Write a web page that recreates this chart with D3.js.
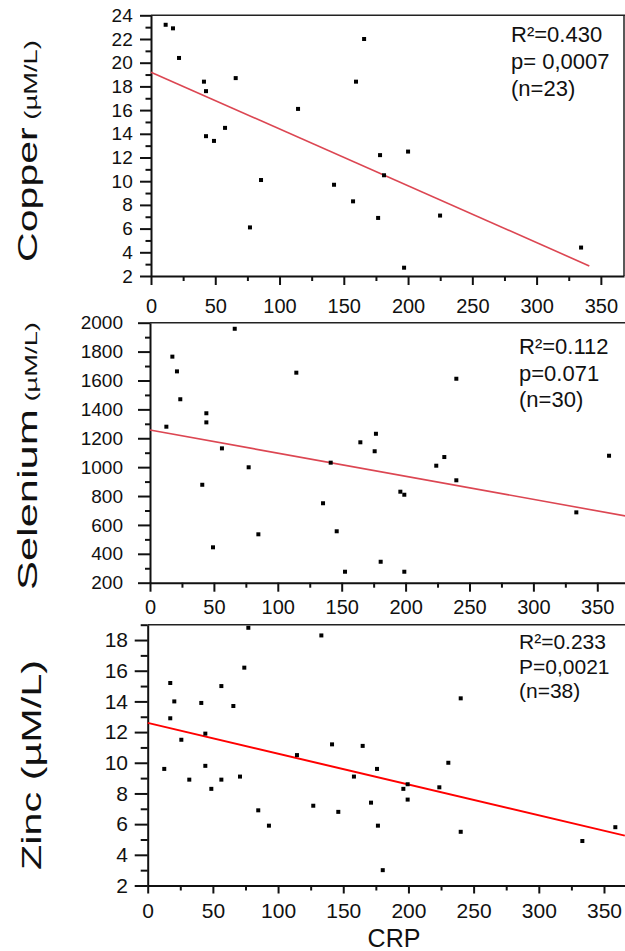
<!DOCTYPE html>
<html>
<head>
<meta charset="utf-8">
<script src="https://cdn.jsdelivr.net/npm/d3@7"></script>
<style>
  html, body { margin: 0; padding: 0; background: #fff; }
  svg { display: block; font-family: "Liberation Sans", Arial, sans-serif; }
</style>
</head>
<body>
<svg id="chart" width="625" height="951"></svg>
<script>
// CRP vs trace elements — three stacked scatter panels with fitted lines

// [CRP, value] pairs
const copperPoints = [
  [11.4, 23.2], [17.1, 22.9], [21.8, 20.4], [41.2, 18.4], [42.8, 17.6], [65.9, 18.7],
  [42.8, 13.8], [49.0, 13.4], [57.6, 14.5], [114.4, 16.1], [85.6, 10.1], [77.0, 6.1],
  [142.4, 9.7], [157.2, 8.3], [165.8, 22.0], [159.5, 18.4], [178.2, 12.2], [200.0, 12.5],
  [181.3, 10.5], [176.7, 6.9], [196.9, 2.7], [224.9, 7.1], [334.6, 4.4]
];
const seleniumPoints = [
  [12.8, 1280], [17.5, 1765], [21.1, 1663], [23.7, 1470], [66.3, 1958], [44.1, 1373],
  [44.1, 1310], [56.3, 1130], [77.2, 999], [40.9, 878], [49.3, 445], [84.8, 535],
  [114.5, 1654], [141.4, 1031], [135.4, 750], [146.1, 556], [152.6, 276], [164.6, 1172],
  [176.8, 1231], [175.8, 1110], [180.5, 345], [195.9, 830], [199.0, 809], [199.0, 276],
  [224.0, 1010], [230.3, 1070], [239.7, 909], [239.7, 1612], [333.6, 687], [359.2, 1079]
];
const zincPoints = [
  [12.7, 9.6], [17.3, 15.2], [17.3, 12.9], [20.4, 14.0], [25.8, 11.5], [31.9, 8.9],
  [41.1, 13.9], [44.2, 11.9], [44.2, 9.8], [48.8, 8.3], [56.5, 15.0], [56.5, 8.9],
  [65.7, 13.7], [70.8, 9.1], [74.1, 16.2], [77.2, 18.8], [84.8, 6.9], [93.0, 5.9],
  [114.5, 10.5], [127.0, 7.2], [133.2, 18.3], [141.4, 11.2], [146.2, 6.8], [158.2, 9.1],
  [164.9, 11.1], [171.3, 7.4], [175.9, 9.6], [176.6, 5.9], [180.3, 3.0], [196.1, 8.3],
  [199.4, 8.6], [199.4, 7.6], [223.7, 8.4], [230.6, 10.0], [240.1, 14.2], [240.1, 5.5],
  [333.4, 4.9], [358.7, 5.8]
];

// regression line end points [CRP, value]
const copperFit = [[0, 19.2], [341, 2.85]];
const seleniumFit = [[0, 1257], [372, 662]];
const zincFit = [[0, 12.6], [366, 5.25]];

const copperStats = ["R²=0.430", "p= 0,0007", "(n=23)"];
const seleniumStats = ["R²=0.112", "p=0.071", "(n=30)"];
const zincStats = ["R²=0.233", "P=0,0021", "(n=38)"];

const crpTicks = [0, 50, 100, 150, 200, 250, 300, 350];
const crpMinorTicks = [25, 75, 125, 175, 225, 275, 325];
const copperTicks = [2, 4, 6, 8, 10, 12, 14, 16, 18, 20, 22, 24];
const copperMinorTicks = [3, 5, 7, 9, 11, 13, 15, 17, 19, 21, 23];
const seleniumTicks = [200, 400, 600, 800, 1000, 1200, 1400, 1600, 1800, 2000];
const seleniumMinorTicks = [300, 500, 700, 900, 1100, 1300, 1500, 1700, 1900];
const zincTicks = [2, 4, 6, 8, 10, 12, 14, 16, 18];
const zincMinorTicks = [3, 5, 7, 9, 11, 13, 15, 17, 19];

const svg = d3.select("#chart");
const fmt = d3.format("d");

const panels = [
  {
    points: copperPoints, fit: copperFit, stats: copperStats,
    yMajor: copperTicks, yMinor: copperMinorTicks, yDomain: [2, 24], xMax: 368,
    left: 151, right: 624, top: 15.3, bottom: 276, rightBorder: true,
    yTick: 11, yMinorLen: 5.5, yPad: 7.3, yFont: 19,
    xTick: 9, xMinorLen: 5, xPad: 14, xFont: 20,
    fitColor: "#dc4652", fitWidth: 1.6,
    statX: 511, statY: 42, statGap: 27, statFont: 22,
    title: ["Copper", " (µM/L)"], titleSizes: [27, 18], titleX: 37, titleY: 151, titleLen: 222
  },
  {
    points: seleniumPoints, fit: seleniumFit, stats: seleniumStats,
    yMajor: seleniumTicks, yMinor: seleniumMinorTicks, yDomain: [200, 2000], xMax: 372,
    left: 150, right: 625.4, top: 322.7, bottom: 582.7, rightBorder: false,
    yTick: 12, yMinorLen: 5, yPad: 15, yFont: 19,
    xTick: 9, xMinorLen: 5, xPad: 8, xFont: 20,
    fitColor: "#dc4652", fitWidth: 1.6,
    statX: 519, statY: 354, statGap: 26.5, statFont: 22,
    title: ["Selenium", " (µM/L)"], titleSizes: [27, 17], titleX: 37, titleY: 456, titleLen: 268
  },
  {
    points: zincPoints, fit: zincFit, stats: zincStats,
    yMajor: zincTicks, yMinor: zincMinorTicks, yDomain: [2, 19], xMax: 366.5,
    left: 147.7, right: 625.5, top: 624.7, bottom: 885.5, rightBorder: false,
    yTick: 13, yMinorLen: 7, yPad: 6.7, yFont: 21,
    xTick: 8, xMinorLen: 5, xPad: 9.5, xFont: 21,
    fitColor: "#ff0000", fitWidth: 2,
    statX: 519, statY: 649, statGap: 24.5, statFont: 21,
    title: ["Zinc (µM/L)"], titleSizes: [27], titleX: 41, titleY: 765, titleLen: 210
  }
];

panels.forEach(drawPanel);

// shared x-axis title
svg.append("text")
  .attr("x", 394)
  .attr("y", 947)
  .attr("text-anchor", "middle")
  .attr("font-size", 25)
  .attr("fill", "#111")
  .text("CRP");

function styleAxis(sel, fontSize) {
  sel.attr("font-family", null).attr("font-size", fontSize);
  sel.selectAll("text").attr("fill", "#111");
  sel.selectAll(".tick line").attr("stroke-width", 2).attr("stroke", "#111");
  sel.select(".domain").attr("stroke-width", 2).attr("stroke", "#111");
}

function drawPanel(p) {
  const x = d3.scaleLinear().domain([0, p.xMax]).range([p.left, p.right]);
  const y = d3.scaleLinear().domain(p.yDomain).range([p.bottom, p.top]);
  const g = svg.append("g");

  // frame: top (and right when it fits)
  g.append("line")
    .attr("x1", p.left).attr("x2", p.right + 1)
    .attr("y1", p.top).attr("y2", p.top)
    .attr("stroke", "#222").attr("stroke-width", 1.5);
  if (p.rightBorder) {
    g.append("line")
      .attr("x1", p.right).attr("x2", p.right)
      .attr("y1", p.top).attr("y2", p.bottom)
      .attr("stroke", "#222").attr("stroke-width", 1.5);
  }

  // minor ticks
  g.append("g")
    .attr("transform", `translate(${p.left},0)`)
    .call(d3.axisLeft(y).tickValues(p.yMinor).tickSize(p.yMinorLen).tickFormat("").tickSizeOuter(0))
    .call((a) => { styleAxis(a, p.yFont); a.select(".domain").remove(); });
  g.append("g")
    .attr("transform", `translate(0,${p.bottom})`)
    .call(d3.axisBottom(x).tickValues(crpMinorTicks.filter((t) => t <= p.xMax)).tickSize(p.xMinorLen).tickFormat("").tickSizeOuter(0))
    .call((a) => { styleAxis(a, p.xFont); a.select(".domain").remove(); });

  // major axes
  g.append("g")
    .attr("transform", `translate(${p.left},0)`)
    .call(d3.axisLeft(y).tickValues(p.yMajor).tickSize(p.yTick).tickPadding(p.yPad).tickFormat(fmt).tickSizeOuter(0))
    .call((a) => styleAxis(a, p.yFont));
  g.append("g")
    .attr("transform", `translate(0,${p.bottom})`)
    .call(d3.axisBottom(x).tickValues(crpTicks).tickSize(p.xTick).tickPadding(p.xPad).tickFormat(fmt).tickSizeOuter(0))
    .call((a) => styleAxis(a, p.xFont));

  // fitted line
  g.append("path")
    .datum(p.fit)
    .attr("fill", "none")
    .attr("stroke", p.fitColor)
    .attr("stroke-width", p.fitWidth)
    .attr("d", d3.line().x((d) => x(d[0])).y((d) => y(d[1])));

  // points
  g.append("g")
    .selectAll("rect")
    .data(p.points)
    .join("rect")
    .attr("x", (d) => x(d[0]) - 2)
    .attr("y", (d) => y(d[1]) - 2)
    .attr("width", 4)
    .attr("height", 4)
    .attr("fill", "#000");

  // stats text
  g.append("g")
    .selectAll("text")
    .data(p.stats)
    .join("text")
    .attr("x", p.statX)
    .attr("y", (d, i) => p.statY + i * p.statGap)
    .attr("font-size", p.statFont)
    .attr("fill", "#111")
    .text((d) => d);

  // y title, glyphs stretched along the text like the original
  const t = g.append("text")
    .attr("text-anchor", "middle")
    .attr("fill", "#111");
  p.title.forEach((s, i) => {
    t.append("tspan").attr("font-size", p.titleSizes[i]).text(s);
  });
  const natural = t.node().getComputedTextLength() || p.titleLen;
  const sx = p.titleLen / natural;
  t.attr("transform", `translate(${p.titleX},${p.titleY}) rotate(-90) scale(${sx},1)`);
}
</script>
</body>
</html>
